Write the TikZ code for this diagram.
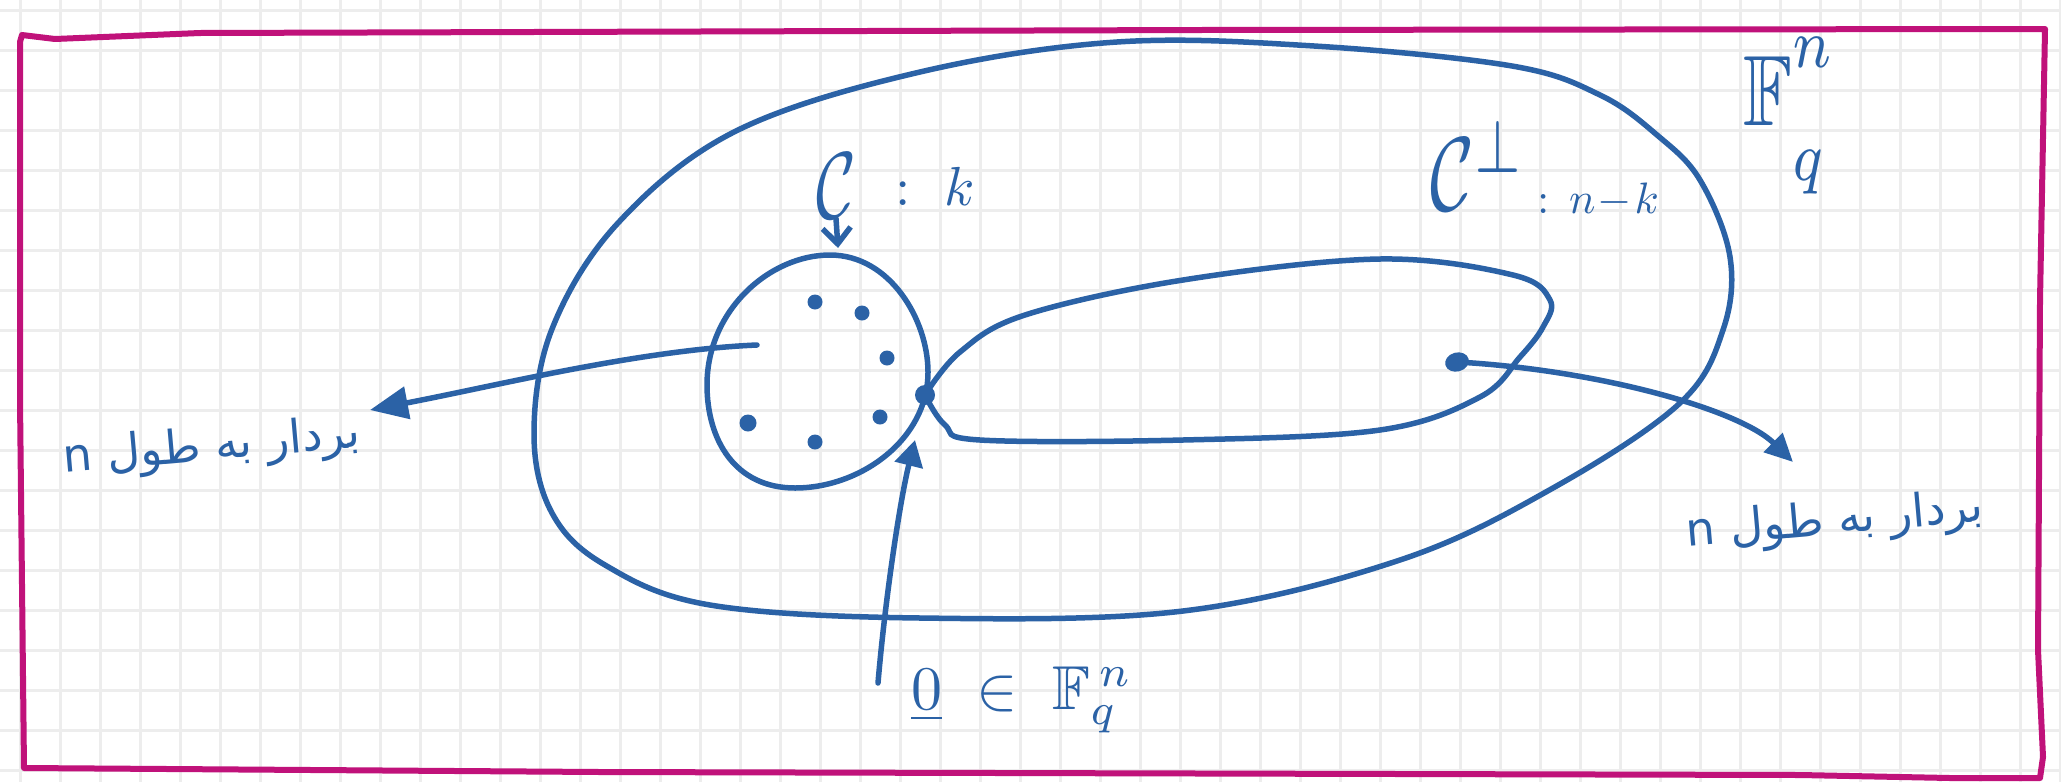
\documentclass[tikz,border=0pt]{standalone}
\usepackage{amssymb}
\usepackage{graphicx}
\usepackage{fontspec}
\newfontfamily\arabicfont[Script=Arabic]{DejaVu Sans}
\TeXXeTstate=1
\usetikzlibrary{arrows.meta,shapes.geometric}
\definecolor{pen}{HTML}{2B62A6}
\definecolor{framec}{HTML}{C0127A}
\definecolor{gridc}{HTML}{EDEDED}
\begin{document}
\begin{tikzpicture}[x=1pt,y=-1pt,
  gridline/.style={gridc,line width=3pt},
  frameline/.style={framec,line width=6pt,line cap=round,line join=round},
  penline/.style={pen,line width=5.5pt,line cap=round,line join=round},
  pt/.style={circle,fill=pen,inner sep=0pt,minimum size=15pt},
  bigpt/.style={ellipse,fill=pen,inner sep=0pt,minimum width=24pt,minimum height=19pt},
  lbl/.style={text=pen,inner sep=0pt,anchor=center},
  persian/.style={text=pen,inner sep=0pt,font=\fontsize{46}{50}\selectfont\arabicfont}
]
\useasboundingbox (0,0) rectangle (2061,782);
\fill[white] (0,0) rectangle (2061,782);
% grid paper
\foreach \x in {20,60,...,2060} \draw[gridline] (\x,0) -- (\x,782);
\foreach \y in {10,50,...,780} \draw[gridline] (0,\y) -- (2061,\y);
% frame
\draw[frameline] (20,42) -- (22,35) -- (55,39) -- (200,33) -- (1200,30) -- (2045,29)
  -- (2040,300) -- (2038,650) -- (2043,757) -- (2040,778) -- (1950,778)
  -- (1800,775) -- (600,772) -- (24,768) -- (20,400) -- cycle;

% outer loop F_q^n
\draw[penline] plot[smooth cycle,tension=0.6] coordinates {
  (1657,135) (1600,95) (1512,66) (1314,46) (1117,42) (920,72) (736,131)
  (618,223) (552,329) (534,434) (552,513) (605,565) (710,605) (920,618)
  (1183,611) (1400,560) (1553,488) (1680,403) (1723,330) (1730,257) (1700,180)};

% code C
\draw[penline] (830,255) .. controls (890,255) and (928,320) .. (928,372)
  .. controls (928,440) and (860,488) .. (795,488)
  .. controls (735,488) and (707,440) .. (707,385)
  .. controls (707,310) and (770,255) .. cycle;

% dual code loop
\draw[penline] plot[smooth,tension=0.6] coordinates {
  (925,395) (960,352) (1025,315) (1183,280) (1380,259) (1513,275) (1550,300)
  (1543,327) (1520,357) (1480,397) (1380,430) (1183,440) (980,440) (945,425) (925,395)};

% codewords
\node[pt] (c1) at (815,302) {};
\node[pt] (c2) at (862,313) {};
\node[pt] (c3) at (887,358) {};
\node[pt] (c4) at (880,417) {};
\node[pt] (c5) at (815,442) {};
\node[pt,minimum size=17pt] (c6) at (748,423) {};
\node[pt,minimum size=20pt] (zero) at (925,395) {};
\node[bigpt,rotate=15] (dp) at (1457,362) {};

% labels
\node[lbl] (Clab) at (836,186) {\scalebox{6.8}[9.5]{$\mathcal{C}$}};
\node[lbl] (Cdim) at (935,186) {\scalebox{5.5}{$:\ k$}};
\node[lbl] (Cplab) at (1478,166) {\scalebox{7.5}[10.5]{$\mathcal{C}^{\perp}$}};
\node[lbl] (Cpdim) at (1598,200) {\scalebox{4.4}{$:\,n\!-\!k$}};
\node[lbl] (Fq) at (1790,116) {\scalebox{8}[10]{$\mathbb{F}_{\raisebox{-0.7ex}{$\scriptstyle q$}}^{\raisebox{0.5ex}{$\scriptstyle n$}}$}};
\node[lbl] (zlab) at (1022,700) {\scalebox{6.2}{$\underline{0}\;\in\;\mathbb{F}_{q}^{\,n}$}};
\node[persian,rotate=5] (lvec) at (212,448) {\beginR بردار به طول \beginL n\endL\endR};
\node[persian,rotate=5] (rvec) at (1835,522) {\beginR بردار به طول \beginL n\endL\endR};

% connectors
\coordinate (lstart) at (757,345);
\coordinate (ltip) at (370,410);
\coordinate (rtip) at (1793,462);
\coordinate (ustart) at (878,683);
\coordinate (utip) at (915,440);
\coordinate (ctop) at (838,248);
\draw[penline,-{Triangle[length=38pt,width=32pt]}] (lstart) .. controls (640,350) and (500,385) .. (ltip);
\draw[penline,-{Triangle[length=28pt,width=26pt]}] (dp.center) .. controls (1600,370) and (1740,410) .. (rtip);
\draw[penline,-{Triangle[length=26pt,width=28pt]}] (ustart) .. controls (885,600) and (900,500) .. (utip);
\draw[penline,-{Straight Barb[length=16pt,width=28pt]}] (Clab.south) -- (ctop);
\end{tikzpicture}
\end{document}
